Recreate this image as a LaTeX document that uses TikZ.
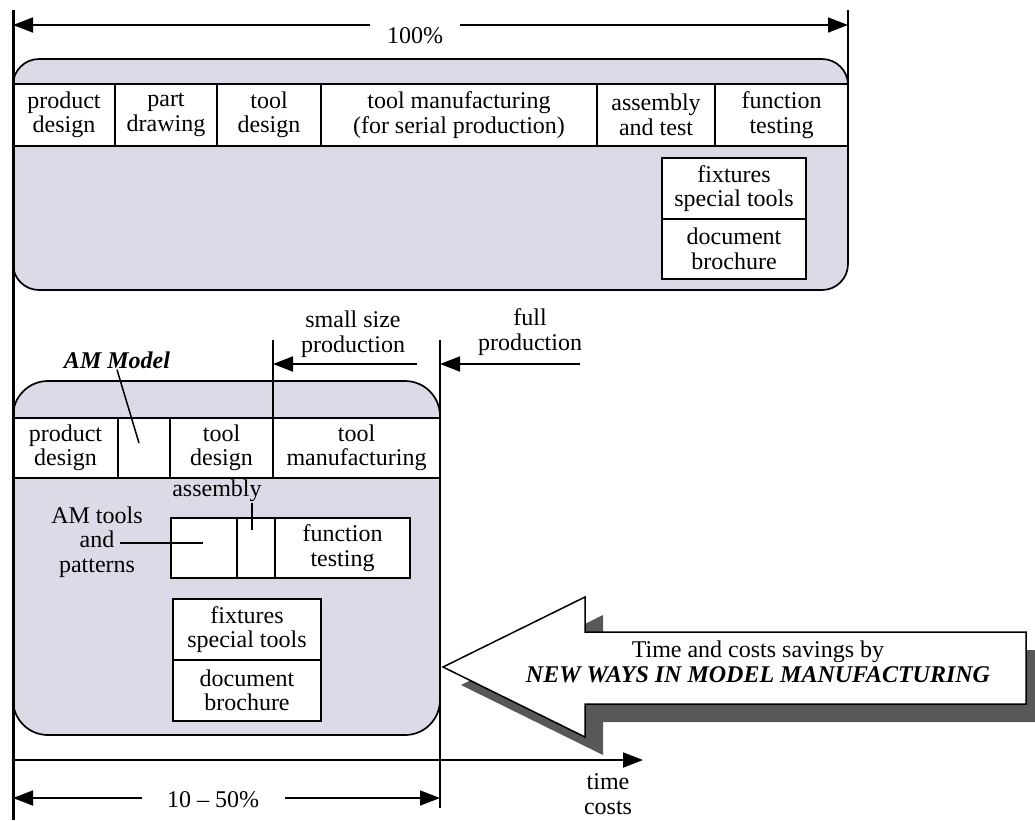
\documentclass[tikz,border=0pt]{standalone}
\usepackage{fontspec}
\setmainfont{Liberation Serif}
\usetikzlibrary{arrows.meta}

\definecolor{panel}{RGB}{219,219,231}
\definecolor{shadowgray}{RGB}{88,88,88}
\newcommand{\figfont}{\fontsize{24}{24.5}\selectfont}

\begin{document}
\begin{tikzpicture}[x=1pt, y=-1pt, draw=black]
\tikzstyle{frame}=[draw=black, line width=1.7pt, fill=panel]
\tikzstyle{cell}=[rectangle, draw=black, line width=1.5pt, fill=white, inner sep=0pt, align=center, font=\figfont]
\tikzstyle{label}=[inner sep=1pt, align=center, font=\figfont]
\tikzstyle{dim}=[line width=1.7pt, -{Triangle[length=20pt, width=15pt]}]
\tikzstyle{lead}=[line width=1.5pt]

\useasboundingbox (0,0) rectangle (1035,820);

% Draw the conventional process (100%)
\draw[frame, rounded corners=26pt] (13,59) rectangle (848,290);

\foreach \xl/\xr/\nm/\txt in {13/115/tpd/{product\\design}, 115/217/tpw/{part\\drawing},
    217/321/ttd/{tool\\design}, 321/597/ttm/{tool manufacturing\\(for serial production)},
    597/715/tat/{assembly\\and test}, 715/848/tft/{function\\testing}}
    \node[cell, minimum width=\xr-\xl, minimum height=62] (\nm) at ({(\xl+\xr)/2}, 115) {\txt};

\node[cell, minimum width=144, minimum height=61] (tfx) at (734,188.5) {fixtures\\special tools};
\node[cell, minimum width=144, minimum height=60] (tdb) at (734,249) {document\\brochure};

% Draw the AM process (10 - 50%)
\draw[frame, rounded corners=35pt] (13,381) rectangle (440,735);

\foreach \xl/\xr/\nm/\txt in {13/118/lpd/{product\\design}, 118/170/lam/{},
    170/273/ltd/{tool\\design}, 273/440/ltm/{tool\\manufacturing}}
    \node[cell, minimum width=\xr-\xl, minimum height=60] (\nm) at ({(\xl+\xr)/2}, 448) {\txt};

\foreach \xl/\xr/\nm/\txt in {171/237/lap/{}, 237/275/las/{}, 275/410/lft/{function\\testing}}
    \node[cell, minimum width=\xr-\xl, minimum height=60] (\nm) at ({(\xl+\xr)/2}, 548) {\txt};

\node[cell, minimum width=148, minimum height=61] (lfx) at (247,629.5) {fixtures\\special tools};
\node[cell, minimum width=148, minimum height=61] (ldb) at (247,690.5) {document\\brochure};

% labels and leaders
\node[label] (amm) at (117,360) {\textbf{\textit{AM Model}}};
\coordinate (ammTip) at (139,443);
\draw[lead] (amm.south) -- (ammTip);

\node[label] (asm) at (217,491) {assembly};
\coordinate (asmTip) at (252,530);
\draw[lead] (asm.south -| asmTip) -- (asmTip);

\node[label] (amt) at (97,542) {AM tools\\and\\patterns};
\coordinate (apFrom) at (120,543);
\coordinate (apTip) at (203,543);
\draw[lead] (apFrom) -- (apTip);

% production markers
\coordinate (sT) at (273,340);
\coordinate (sB) at (273,418);
\draw[line width=1.7pt] (sT) -- (sB);
\coordinate (fT) at (440,340);
\coordinate (fB) at (440,808);
\draw[line width=1.7pt] (fT) -- (fB);

\node[label] (small) at (353,334) {small size\\production};
\coordinate (sA) at (417,364);
\coordinate (sE) at (273,364);
\draw[dim] (sA) -- (sE);

\node[label] (full) at (530,332) {full\\production};
\coordinate (fA) at (580,364);
\coordinate (fE) at (440,364);
\draw[dim] (fA) -- (fE);

% Draw the dimension arrows
\coordinate (rT) at (848,10);
\coordinate (rB) at (848,84);
\draw[line width=1.7pt] (rT) -- (rB);

\node[label] (hundred) at (415,36) {100\%};
\coordinate (dA) at (13,25);
\coordinate (dB) at (370,25);
\coordinate (dC) at (460,25);
\coordinate (dD) at (848,25);
\draw[dim] (dB) -- (dA);
\draw[dim] (dC) -- (dD);

\node[label] (tenfifty) at (213,800) {10 -- 50\%};
\coordinate (bA) at (13,798);
\coordinate (bB) at (142,798);
\coordinate (bC) at (285,798);
\coordinate (bD) at (440,798);
\draw[dim] (bB) -- (bA);
\draw[dim] (bC) -- (bD);

% time / costs axis
\coordinate (tO) at (13,760);
\coordinate (tE) at (643,760);
\draw[dim, line width=2pt] (tO) -- (tE);
\node[label] (tc) at (608,794) {time\\costs};

% Draw the savings arrow with its shadow
\fill[shadowgray] (461,685) -- (603,615) -- (603,650) -- (1044,650) -- (1044,722)
    -- (603,722) -- (603,755) -- cycle;
\draw[line width=1.5pt, fill=white] (443,667) -- (585,597) -- (585,632) -- (1026,632)
    -- (1026,704) -- (585,704) -- (585,737) -- cycle;
\node[label] (save) at (758,662) {Time and costs savings by\\\textbf{\textit{NEW WAYS IN MODEL MANUFACTURING}}};

% vertical axis
\coordinate (axT) at (13,10);
\coordinate (axB) at (13,820);
\draw[line width=3pt] (axT) -- (axB);

\end{tikzpicture}
\end{document}
